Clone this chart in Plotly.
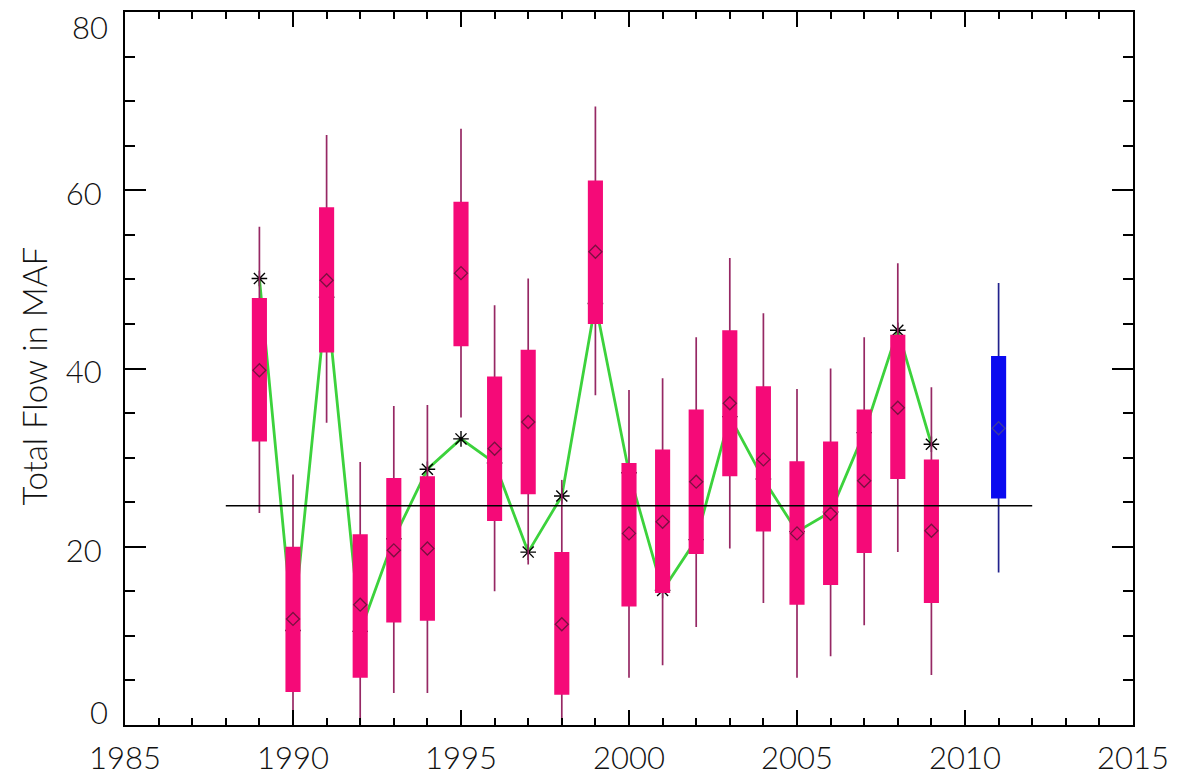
import plotly.graph_objects as go

# ---- data ----
years = list(range(1989, 2010))
whisk_lo = [23.8, 0.0, 33.9, 0.0, 3.6, 3.6, 34.5, 15.0, 18.0, 0.0, 37.0,
            5.3, 6.7, 11.0, 19.8, 13.7, 5.3, 7.7, 11.2, 19.4, 5.6]
q1 = [31.8, 3.7, 41.8, 5.3, 11.5, 11.7, 42.5, 22.9, 25.9, 3.4, 45.0,
      13.3, 14.8, 19.2, 27.9, 21.7, 13.5, 15.7, 19.3, 27.6, 13.7]
median = [39.8, 11.9, 49.9, 13.5, 19.6, 19.8, 50.7, 31.0, 34.0, 11.3, 53.1,
          21.5, 22.8, 27.3, 36.1, 29.8, 21.5, 23.7, 27.4, 35.6, 21.8]
q3 = [47.9, 20.0, 58.1, 21.4, 27.7, 27.9, 58.7, 39.1, 42.1, 19.4, 61.1,
      29.4, 30.9, 35.4, 44.3, 38.0, 29.6, 31.8, 35.4, 43.8, 29.8]
whisk_hi = [55.9, 28.1, 66.2, 29.5, 35.8, 35.9, 66.9, 47.1, 50.1, 27.5, 69.4,
            37.6, 38.9, 43.5, 52.4, 46.2, 37.7, 40.0, 43.5, 51.8, 37.9]
observed = [50.1, 10.6, 48.0, 10.5, 20.9, 28.7, 32.1, 29.4, 19.4, 25.7, 47.3,
            28.3, 15.1, 20.8, 34.6, 27.6, 21.7, 23.9, 32.8, 44.3, 31.5]

fc_year = [2011]
fc_lo = [17.1]
fc_q1 = [25.4]
fc_med = [33.3]
fc_q3 = [41.4]
fc_hi = [49.6]

avg_x = [1988, 2012]
avg_value = 24.6

x_ticks = [1985, 1990, 1995, 2000, 2005, 2010, 2015]
y_ticks = [0, 20, 40, 60, 80]

PINK = "#F50A78"
PINK_W = "#962864"
BLUE = "#0A0AF0"
BLUE_W = "#22228C"
GREEN = "#3CD23C"


def seg(xs, lo, hi):
    X, Y = [], []
    for x, a, b in zip(xs, lo, hi):
        X += [x, x, None]
        Y += [a, b, None]
    return X, Y


fig = go.Figure()

# base subplot: green line, asterisks, whiskers (drawn beneath the boxes)
fig.add_trace(go.Scatter(x=years, y=observed, mode="lines",
                         line=dict(color=GREEN, width=2.8), hoverinfo="skip"))
fig.add_trace(go.Scatter(x=years, y=observed, mode="markers",
                         marker=dict(symbol="asterisk-open", size=13, color="black",
                                     line=dict(color="black", width=1.4))))
wx, wy = seg(years, whisk_lo, whisk_hi)
fig.add_trace(go.Scatter(x=wx, y=wy, mode="lines",
                         line=dict(color=PINK_W, width=1.7)))
bx, by = seg(fc_year, fc_lo, fc_hi)
fig.add_trace(go.Scatter(x=bx, y=by, mode="lines",
                         line=dict(color=BLUE_W, width=1.7)))

# overlay subplot: boxes, medians, average line
fig.add_trace(go.Bar(x=years, y=[b - a for a, b in zip(q1, q3)], base=q1,
                     width=0.45, marker=dict(color=PINK, line=dict(width=0)),
                     xaxis="x2", yaxis="y2"))
fig.add_trace(go.Bar(x=fc_year, y=[b - a for a, b in zip(fc_q1, fc_q3)], base=fc_q1,
                     width=0.45, marker=dict(color=BLUE, line=dict(width=0)),
                     xaxis="x2", yaxis="y2"))
fig.add_trace(go.Scatter(x=years, y=median, mode="markers",
                         marker=dict(symbol="diamond-open", size=10, color="#7A1040",
                                     line=dict(color="#7A1040", width=1.3)),
                         xaxis="x2", yaxis="y2"))
fig.add_trace(go.Scatter(x=fc_year, y=fc_med, mode="markers",
                         marker=dict(symbol="diamond-open", size=10, color="#3A3AA0",
                                     line=dict(color="#3A3AA0", width=1.3)),
                         xaxis="x2", yaxis="y2"))
fig.add_trace(go.Scatter(x=avg_x, y=[avg_value] * len(avg_x), mode="lines",
                         line=dict(color="black", width=1.6),
                         xaxis="x2", yaxis="y2"))

FONT = dict(family="Lato, Liberation Sans, sans-serif", size=31, weight=300,
            color="#111111")

axis_common = dict(showline=True, linecolor="black", linewidth=2, mirror="allticks",
                   ticks="inside", tickcolor="black", tickwidth=1.5,
                   showgrid=False, zeroline=False, tickfont=FONT,
                   ticklabeloverflow="allow", automargin=False)

# end labels of the y axis sit inside the frame, as in the reference
y_end = [y_ticks[0], y_ticks[-1]]
y_ticktext = ["" if v in y_end else str(v) for v in y_ticks]
end_annotations = [
    dict(text=str(y_ticks[0]), xref="paper", yref="y", x=-0.0149, y=y_ticks[0],
         xanchor="right", yanchor="bottom", yshift=-8, showarrow=False, font=FONT),
    dict(text=str(y_ticks[-1]), xref="paper", yref="y", x=-0.0149, y=y_ticks[-1],
         xanchor="right", yanchor="top", yshift=6, showarrow=False, font=FONT),
]

# the page body keeps its default 8px margin, so the figure is sized to fit
fig.update_layout(
    width=1172, height=771,
    margin=dict(l=117, r=47, t=4, b=54, autoexpand=False),
    paper_bgcolor="white", plot_bgcolor="white",
    showlegend=False, barmode="overlay",
    xaxis=dict(range=[1985, 2015], tickvals=x_ticks, ticklen=15,
               minor=dict(dtick=1, tick0=1985, ticks="inside", ticklen=7,
                          tickcolor="black", tickwidth=1.5, showgrid=False),
               ticklabelstandoff=5, **axis_common),
    yaxis=dict(range=[0, 80], tickvals=y_ticks, ticktext=y_ticktext, ticklen=21,
               minor=dict(dtick=5, tick0=0, ticks="inside", ticklen=10,
                          tickcolor="black", tickwidth=1.5, showgrid=False),
               ticklabelstandoff=15, ticklabelshift=4, **axis_common),
    xaxis2=dict(overlaying="x", range=[1985, 2015], visible=False),
    yaxis2=dict(overlaying="y", range=[0, 80], visible=False),
    annotations=[dict(text="Total Flow in MAF", textangle=-90,
                      xref="paper", yref="paper", x=-0.0903, y=0.49,
                      xanchor="center", yanchor="middle",
                      showarrow=False, font=dict(FONT, size=33))] + end_annotations,
)

fig.write_html("out.html")
